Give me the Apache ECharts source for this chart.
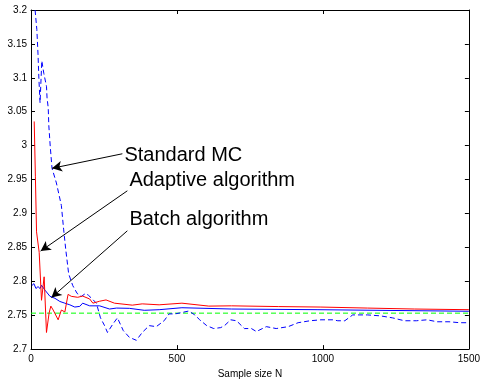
<!DOCTYPE html>
<html>
<head>
<meta charset="utf-8">
<script src="https://cdn.jsdelivr.net/npm/echarts@6/dist/echarts.min.js"></script>
<style>
html,body{margin:0;padding:0;background:#fff;}
#chart{width:483px;height:384px;}
</style>
</head>
<body>
<div id="chart"></div>
<script>
// ---- data ----
const xTicks = [0, 500, 1000, 1500];
const yTicks = [2.7, 2.75, 2.8, 2.85, 2.9, 2.95, 3, 3.05, 3.1, 3.15, 3.2];

// Standard MC (blue dashed)
const mcN = [14,20,24,27,31,37,44,53,55,59,61,66,72,87,104,112,119,129,143,158,173,187,197,211,224,238,252,262,279,296,316,337,361,381,405,429,456,473,493,510,541,561,578,602,626,650,663,684,704,731,755,772,806,840,881,915,956,993,1034,1051,1075,1102,1153,1197,1238,1279,1320,1357,1391,1432,1469,1500];
const mcV = [3.2,3.1712,3.1352,3.0991,3.0631,3.1251,3.1063,3.0876,3.0703,3.0559,3.0300,2.9983,2.9666,2.9450,2.9118,2.8758,2.8470,2.8110,2.7937,2.7821,2.7778,2.7821,2.7793,2.7735,2.7677,2.7461,2.7346,2.7245,2.7360,2.7461,2.7274,2.7173,2.7130,2.7245,2.7346,2.7331,2.7418,2.7519,2.7519,2.7533,2.7562,2.7504,2.7432,2.7346,2.7303,2.7317,2.7346,2.7432,2.7418,2.7303,2.7303,2.7259,2.7331,2.7303,2.7331,2.7389,2.7418,2.7432,2.7432,2.7418,2.7418,2.7504,2.7504,2.7490,2.7461,2.7418,2.7418,2.7432,2.7403,2.7403,2.7389,2.7389];

// Adaptive algorithm (red solid)
const adN = [11,15,19,24,28,36,40,45,48,53,62,68,76,93,104,116,127,138,160,177,201,212,235,257,286,347,381,439,517,609,687,847,993,1153,1313,1500];
const adV = [3.0357,2.9550,2.8729,2.8758,2.8427,2.7720,2.7749,2.8066,2.8037,2.7245,2.7533,2.7634,2.7576,2.7432,2.7576,2.7548,2.7807,2.7778,2.7764,2.7782,2.7739,2.7677,2.7706,2.7725,2.7677,2.7648,2.7667,2.7653,2.7677,2.7634,2.7638,2.7627,2.7620,2.7605,2.7591,2.7581];

// Batch algorithm (blue solid)
const baN = [3,10,17,24,31,36,48,65,82,99,116,133,150,167,177,201,235,269,293,337,388,439,517,687,983,1500];
const baV = [2.7937,2.7965,2.7893,2.7922,2.7893,2.7941,2.7869,2.7778,2.7749,2.7702,2.7677,2.7653,2.7620,2.7630,2.7677,2.7638,2.7638,2.7591,2.7605,2.7601,2.7572,2.7581,2.7610,2.7591,2.7581,2.7558];

// Reference value (green dashed)
const refN = [0, 1500];
const refV = [2.753, 2.753];

// Annotations
const annoTexts = ['Standard MC', 'Adaptive algorithm', 'Batch algorithm'];
const annoTextAt = [[320, 2.9853], [337, 2.9493], [337, 2.8916]];
const arrowFrom = [[313, 2.988], [330, 2.9334], [330, 2.8744]];
const arrowTo = [[72, 2.9666], [33, 2.8445], [70, 2.7759]];

const xLabel = 'Sample size N';
// ---------------------------------------

const zip = (a, b) => a.map((v, i) => [v, b[i]]);
const FONT = 'Liberation Sans, Arial, sans-serif';

const chart = echarts.init(document.getElementById('chart'), null, {renderer: 'canvas'});

const baseX = {
  type: 'value', min: 0, max: 1500, interval: 500,
  splitLine: {show: false},
  axisLine: {show: true, onZero: false, lineStyle: {color: '#000', width: 1}},
  axisTick: {show: true, inside: true, length: 4, lineStyle: {color: '#000'}},
};
const baseY = {
  type: 'value', min: 2.7, max: 3.2, interval: 0.05,
  splitLine: {show: false},
  axisLine: {show: true, onZero: false, lineStyle: {color: '#000', width: 1}},
  axisTick: {show: true, inside: true, length: 4, lineStyle: {color: '#000'}},
};

chart.setOption({
  animation: false,
  backgroundColor: '#fff',
  grid: {left: 31, right: 11, top: 10, bottom: 27, containLabel: false},
  xAxis: [
    Object.assign({}, baseX, {
      position: 'bottom',
      name: xLabel, nameLocation: 'middle', nameGap: 17,
      nameTextStyle: {fontFamily: FONT, fontSize: 10, color: '#000'},
      axisLabel: {show: true, fontFamily: FONT, fontSize: 10, color: '#000', margin: 5,
        formatter: v => String(v)},
    }),
    Object.assign({}, baseX, {position: 'top', axisLabel: {show: false}})
  ],
  yAxis: [
    Object.assign({}, baseY, {
      position: 'left',
      axisLabel: {show: true, fontFamily: FONT, fontSize: 10, color: '#000', margin: 4,
        formatter: v => String(+v.toFixed(2))},
    }),
    Object.assign({}, baseY, {position: 'right', axisLabel: {show: false}})
  ],
  series: [
    {
      name: 'ref', type: 'line', data: zip(refN, refV), showSymbol: false, symbol: 'none',
      lineStyle: {color: '#00ff00', width: 1, type: [5, 3]}, z: 2, silent: true
    },
    {
      name: 'Standard MC', type: 'line', data: zip(mcN, mcV), showSymbol: false, symbol: 'none',
      lineStyle: {color: '#0000ff', width: 1, type: [5, 3]}, z: 3, silent: true
    },
    {
      name: 'Batch', type: 'line', data: zip(baN, baV), showSymbol: false, symbol: 'none',
      lineStyle: {color: '#0000ff', width: 1}, z: 4, silent: true
    },
    {
      name: 'Adaptive', type: 'line', data: zip(adN, adV), showSymbol: false, symbol: 'none',
      lineStyle: {color: '#ff0000', width: 1}, z: 5, silent: true,
      markLine: {
        silent: true, animation: false,
        symbol: ['none', 'arrow'], symbolSize: [8, 10],
        lineStyle: {color: '#000', width: 1, type: 'solid'},
        label: {show: false},
        data: arrowFrom.map((f, i) => [{coord: f}, {coord: arrowTo[i]}])
      },
      markPoint: {
        silent: true, animation: false,
        symbol: 'circle', symbolSize: 0,
        label: {show: true, position: 'right', distance: 0, fontFamily: FONT, fontSize: 20,
          color: '#000', formatter: p => p.name},
        data: annoTexts.map((t, i) => ({name: t, coord: annoTextAt[i]}))
      }
    }
  ]
});
</script>
</body>
</html>
